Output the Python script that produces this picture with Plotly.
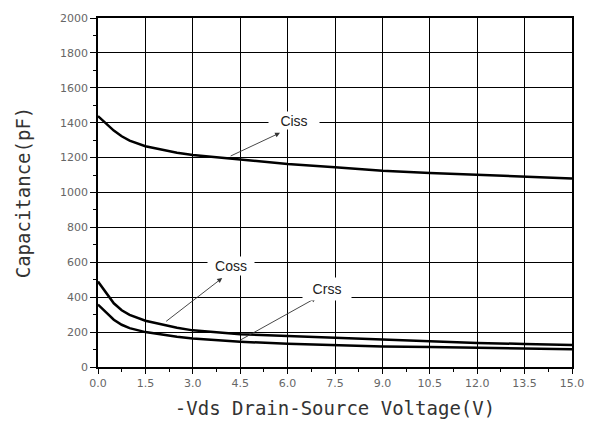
import plotly.graph_objects as go

# Drain-source voltage (V)
vds = [0.0, 0.25, 0.5, 0.75, 1.0, 1.5, 2.0, 2.5, 3.0, 3.75, 4.5, 6.0, 7.5, 9.0, 10.5, 12.0, 13.5, 15.0]
# Capacitances (pF)
ciss = [1438, 1395, 1355, 1322, 1297, 1265, 1245, 1228, 1215, 1202, 1190, 1163, 1145, 1125, 1112, 1102, 1091, 1080]
coss = [490, 428, 365, 325, 299, 265, 244, 225, 210, 198, 188, 178, 168, 158, 145, 138, 132, 126]
crss = [358, 312, 271, 242, 223, 200, 186, 173, 163, 153, 145, 133, 125, 118, 115, 112, 105, 102]

x_ticks = [0.0, 1.5, 3.0, 4.5, 6.0, 7.5, 9.0, 10.5, 12.0, 13.5, 15.0]
y_ticks = [0, 200, 400, 600, 800, 1000, 1200, 1400, 1600, 1800, 2000]

series = [("Ciss", ciss), ("Coss", coss), ("Crss", crss)]

# label placement: (text, text_x, text_y, head_x, head_y, tail_x, tail_y, box_w, box_h)
labels = [
    ("Ciss", 6.2, 1412, 5.76, 1342, 4.15, 1205, 50, 17),
    ("Coss", 4.2, 577, 3.93, 510, 2.11, 255, 46, 18),
    ("Crss", 7.25, 448, 6.91, 397, 4.47, 151, 48, 22),
]

fig = go.Figure()
for name, vals in series:
    fig.add_trace(go.Scatter(x=vds, y=vals, mode="lines", name=name,
                             line=dict(color="black", width=2.5), showlegend=False))

for text, tx, ty, hx, hy, sx, sy, bw, bh in labels:
    fig.add_annotation(x=hx, y=hy, ax=sx, ay=sy, axref="x", ayref="y", xref="x", yref="y",
                       text="", showarrow=True, arrowhead=2, arrowsize=1.1,
                       arrowwidth=0.9, arrowcolor="#333")
    fig.add_annotation(x=tx, y=ty, xref="x", yref="y", text=text, showarrow=False,
                       bgcolor="white", width=bw, height=bh, borderpad=0,
                       font=dict(family="Liberation Sans, Arial", size=14, color="#222"))

tickfont = dict(family="DejaVu Sans, Arial", size=11, color="#666")
titlefont = dict(family="DejaVu Sans Mono, monospace", size=19, color="#333")

fig.update_xaxes(range=[0, 15], tickvals=x_ticks, ticktext=[f"{v:.1f}" for v in x_ticks],
                 ticks="outside", ticklen=5, tickwidth=1.3, tickcolor="black",
                 showgrid=True, gridcolor="black", gridwidth=1.3,
                 showline=True, linecolor="black", linewidth=1.5, mirror=True,
                 zeroline=False, tickfont=tickfont,
                 minor=dict(dtick=0.75, ticks="outside", ticklen=3, tickcolor="black", showgrid=False),
                 title=dict(text="-Vds Drain-Source Voltage(V)", font=titlefont, standoff=13))
fig.update_yaxes(range=[0, 2000], tickvals=y_ticks,
                 ticks="outside", ticklen=6, tickwidth=1.3, tickcolor="black",
                 showgrid=True, gridcolor="black", gridwidth=1.3,
                 showline=True, linecolor="black", linewidth=1.5, mirror=True,
                 zeroline=False, tickfont=tickfont,
                 minor=dict(dtick=100, ticks="outside", ticklen=3, tickcolor="black", showgrid=False),
                 title=dict(text="Capacitance(pF)", font=titlefont, standoff=24))

fig.update_layout(width=596, height=430, margin=dict(l=98, r=20, t=14, b=63),
                  paper_bgcolor="white", plot_bgcolor="white")

fig.write_html("out.html")
